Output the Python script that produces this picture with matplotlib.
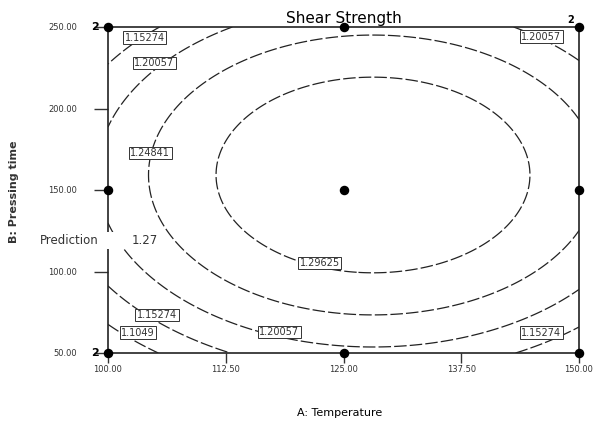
import matplotlib
matplotlib.use("Agg")
import matplotlib.pyplot as plt
from matplotlib.patches import Rectangle
import numpy as np

# quadratic model in coded units, X=(A-125)/25, Y=(B-150)/100
b0 = 1.3393
b1 = 0.0258
b2 = 0.0234
b11 = -0.103
b22 = -0.127

levels = [1.1049, 1.15274, 1.20057, 1.24841, 1.29625]

# design points (A: temperature, B: pressing time)
pts_a = [100, 100, 100, 125, 125, 125, 150, 150, 150]
pts_b = [50, 150, 250, 50, 150, 250, 50, 150, 250]
rep_a = [100, 100, 150]
rep_b = [50, 250, 250]
rep_txt = ["2", "2", "2"]

x_ticks = [100.0, 112.5, 125.0, 137.5, 150.0]
y_ticks = [50.0, 100.0, 150.0, 200.0, 250.0]

pred_value = "1.27"

# contour label text and where they sit
lbl_text = ["1.15274", "1.20057", "1.20057", "1.24841", "1.29625",
            "1.20057", "1.15274", "1.1049", "1.15274"]
lbl_pos = [(103.9, 243.3), (104.9, 227.9), (146.0, 243.9), (104.5, 172.7),
           (122.5, 105.2), (118.2, 62.9), (105.2, 73.3), (103.2, 62.5),
           (146.0, 62.3)]


def model(a, b):
    X = (a - 125.0) / 25.0
    Y = (b - 150.0) / 100.0
    return b0 + b1 * X + b2 * Y + b11 * X ** 2 + b22 * Y ** 2


W, H = 593, 428
fig = plt.figure(figsize=(W / 100, H / 100), dpi=100)
ax = fig.add_axes([108 / W, 1 - 353 / H, (579 - 108) / W, (353 - 27) / H])

aa, bb = np.meshgrid(np.linspace(100, 150, 300), np.linspace(50, 250, 300))
zz = model(aa, bb)
cs = ax.contour(aa, bb, zz, levels=levels, colors="#222222",
                linewidths=0.9, linestyles=[(0, (10, 2.5))])

for t, (px, py) in zip(lbl_text, lbl_pos):
    ax.text(px, py, t, fontsize=7, ha="center", va="center", zorder=5, color="#333333",
            bbox=dict(boxstyle="square,pad=0.15", fc="white", ec="#333333", lw=0.7))

ax.scatter(pts_a, pts_b, s=34, color="black", zorder=6, clip_on=False)

for a, b, t in zip(rep_a, rep_b, rep_txt):
    if a == 150:
        ax.annotate(t, (a, b), xytext=(-6, 5), textcoords="offset points",
                    fontsize=7, fontweight="bold", ha="center", va="center")
    else:
        ax.annotate(t, (a, b), xytext=(-9, 0), textcoords="offset points",
                    fontsize=8, fontweight="bold", ha="center", va="center")

ax.set_xlim(100, 150)
ax.set_ylim(50, 250)
ax.set_xticks(x_ticks)
ax.set_xticklabels([f"{v:.2f}" for v in x_ticks])
ax.set_yticks(y_ticks)
ax.set_yticklabels([f"{v:.2f}" for v in y_ticks])
ax.tick_params(direction="out", width=1, labelsize=6, colors="#333333")
ax.tick_params(axis="x", length=7, pad=2)
ax.tick_params(axis="y", length=10, pad=12)
for s in ax.spines.values():
    s.set_linewidth(1.2)
    s.set_color("#222222")

ax.set_title("Shear Strength", fontsize=11, pad=3)
fig.text(340 / W, 1 - 413 / H, "A: Temperature", fontsize=8, ha="center", va="center")
fig.text(14 / W, 1 - 192 / H, "B: Pressing time", fontsize=8, fontweight="bold",
         rotation=90, ha="center", va="center", color="#333333")

# prediction flag (white box covers the axis line)
fig.patches.append(Rectangle((36 / W, 1 - 249 / H), 126 / W, 17 / H,
                             transform=fig.transFigure, fc="white", ec="none", zorder=10))
fig.text(40 / W, 1 - 241 / H, "Prediction", fontsize=8.5, ha="left", va="center",
         zorder=11, color="#333333")
fig.text(145 / W, 1 - 241 / H, pred_value, fontsize=8.5, ha="center", va="center",
         zorder=11, color="#333333")

fig.savefig("out.png", dpi=100)
